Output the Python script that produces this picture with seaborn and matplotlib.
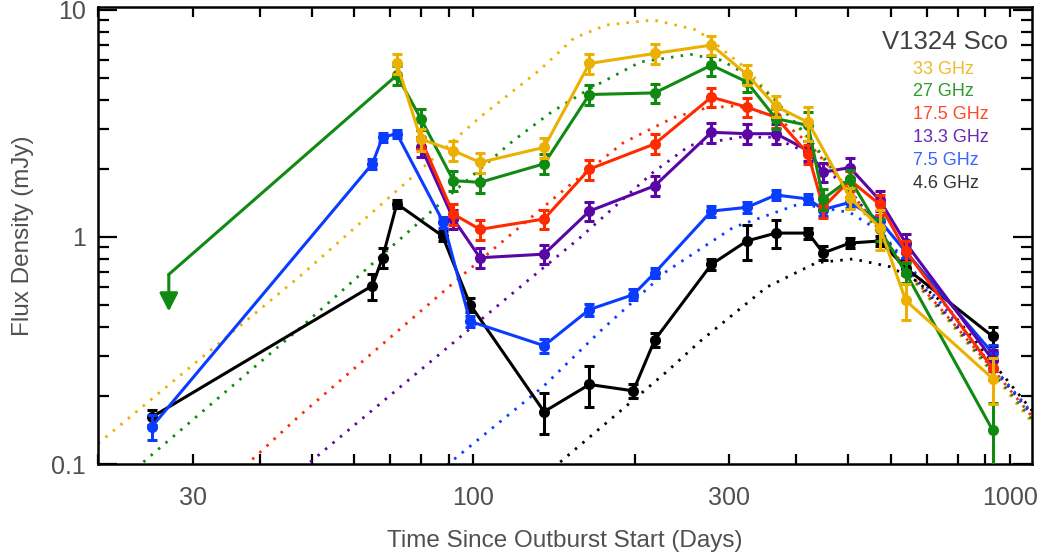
import matplotlib
matplotlib.use("Agg")
import matplotlib.pyplot as plt
import seaborn as sns
import pandas as pd

# ---------------- observed data (days, mJy, error) ----------------
t_33 = [72.1, 79.9, 91.9, 103, 135.6, 164.7, 218, 278, 323.6, 366.6, 421, 503.6, 572.6, 640, 929]
s_33 = [5.81, 2.70, 2.40, 2.13, 2.48, 5.81, 6.43, 7.00, 5.20, 3.76, 3.20, 1.49, 1.10, 0.525, 0.238]
e_33 = [0.60, 0.30, 0.25, 0.22, 0.26, 0.60, 0.65, 0.70, 0.52, 0.40, 0.55, 0.16, 0.22, 0.095, 0.055]

t_27 = [72.1, 79.9, 91.9, 103, 135.6, 164.7, 218, 278, 323.6, 366.6, 421, 449, 503.6, 572.6, 640, 929]
s_27 = [5.16, 3.32, 1.77, 1.74, 2.10, 4.24, 4.31, 5.71, 4.82, 3.32, 3.10, 1.47, 1.80, 1.08, 0.695, 0.141]
e_27 = [0.50, 0.35, 0.18, 0.18, 0.21, 0.42, 0.43, 0.57, 0.48, 0.33, 0.45, 0.15, 0.18, 0.12, 0.07, 0.045]
t_27_limit = 27.1
s_27_limit = 0.684
s_27_arrow = 0.47

t_175 = [79.9, 91.9, 103, 135.6, 164.7, 218, 278, 323.6, 366.6, 421, 449, 503.6, 572.6, 640, 929]
s_175 = [2.70, 1.26, 1.08, 1.20, 1.99, 2.57, 4.13, 3.73, 3.37, 2.32, 1.35, 1.78, 1.39, 0.867, 0.264]
e_175 = [0.27, 0.13, 0.11, 0.12, 0.20, 0.26, 0.41, 0.37, 0.34, 0.23, 0.14, 0.18, 0.14, 0.09, 0.03]

t_133 = [79.9, 91.9, 103, 135.6, 164.7, 218, 278, 323.6, 366.6, 421, 449, 503.6, 572.6, 640, 929]
s_133 = [2.50, 1.20, 0.81, 0.84, 1.30, 1.68, 2.89, 2.85, 2.85, 2.40, 1.93, 2.02, 1.45, 0.94, 0.288]
e_133 = [0.25, 0.12, 0.08, 0.08, 0.13, 0.17, 0.29, 0.29, 0.29, 0.24, 0.19, 0.20, 0.15, 0.09, 0.03]

t_75 = [25.2, 64.9, 67.8, 72.1, 88.0, 98.7, 135.6, 164.7, 198.8, 218, 278, 323.6, 366.6, 421, 449, 503.6, 572.6, 640, 929]
s_75 = [0.146, 2.10, 2.75, 2.85, 1.16, 0.425, 0.332, 0.479, 0.557, 0.695, 1.30, 1.35, 1.53, 1.47, 1.32, 1.42, 1.18, 0.86, 0.308]
e_75 = [0.018, 0.10, 0.12, 0.12, 0.06, 0.025, 0.025, 0.03, 0.03, 0.035, 0.07, 0.07, 0.08, 0.08, 0.08, 0.08, 0.07, 0.05, 0.025]

t_46 = [25.2, 64.9, 67.8, 72.1, 87.7, 98.7, 135.6, 164.7, 198.8, 218, 278, 323.6, 366.6, 421, 449, 503.6, 572.6, 640, 929]
s_46 = [0.161, 0.61, 0.81, 1.40, 1.01, 0.504, 0.170, 0.224, 0.210, 0.352, 0.757, 0.96, 1.04, 1.04, 0.85, 0.94, 0.96, 0.73, 0.365]
e_46 = [0.012, 0.08, 0.08, 0.06, 0.05, 0.035, 0.035, 0.045, 0.015, 0.025, 0.04, 0.17, 0.15, 0.06, 0.06, 0.05, 0.05, 0.05, 0.035]

# ---------------- model curves (dotted) ----------------
mt_33 = [20, 48, 103, 133, 154, 177, 217, 261, 280, 323, 366, 421, 504, 573, 640, 760, 929, 1100]
ms_33 = [0.123, 0.684, 3.37, 5.43, 7.5, 8.58, 9.03, 8.16, 7.24, 5.5, 4.0, 2.7, 1.55, 1.02, 0.70, 0.44, 0.25, 0.152]
mt_27 = [24.3, 47.6, 89.3, 118.9, 140, 165, 205, 254, 290, 323, 366, 421, 504, 573, 640, 760, 929, 1100]
ms_27 = [0.102, 0.397, 1.49, 2.66, 3.55, 4.5, 5.9, 6.37, 6.0, 5.2, 4.0, 2.75, 1.58, 1.04, 0.71, 0.45, 0.255, 0.157]
mt_175 = [37.6, 47.6, 95.9, 149.4, 190.5, 236, 272, 310, 366, 421, 504, 573, 640, 760, 929, 1100]
ms_175 = [0.098, 0.164, 0.684, 1.65, 2.6, 3.35, 3.7, 3.78, 3.4, 2.6, 1.6, 1.06, 0.72, 0.455, 0.262, 0.162]
mt_133 = [49.7, 126, 158, 216.7, 253.6, 314, 362, 418, 504, 573, 640, 760, 929, 1100]
ms_133 = [0.102, 0.638, 0.99, 1.93, 2.53, 2.75, 2.75, 2.36, 1.6, 1.08, 0.74, 0.46, 0.266, 0.165]
mt_75 = [89.3, 135.3, 172.4, 229.5, 305, 406, 504, 573, 640, 760, 929, 1100]
ms_75 = [0.0987, 0.22, 0.384, 0.707, 1.10, 1.40, 1.28, 1.06, 0.78, 0.48, 0.27, 0.168]
mt_46 = [145.3, 229.5, 264.8, 352, 436, 511, 597, 670, 760, 929, 1100]
ms_46 = [0.102, 0.255, 0.347, 0.60, 0.77, 0.80, 0.74, 0.64, 0.50, 0.28, 0.172]

labels = ["33 GHz", "27 GHz", "17.5 GHz", "13.3 GHz", "7.5 GHz", "4.6 GHz"]
colors = ["#EBB000", "#108A10", "#FF2A00", "#5A06A6", "#0A3CFF", "#000000"]
text_colors = ["#EDBB2E", "#2E9A2E", "#FF4A2A", "#6A2AB0", "#3A64FF", "#333333"]
x_ticks = [30, 100, 300, 1000]
x_ticklabels = ["30", "100", "300", "1000"]
y_ticks = [0.1, 1, 10]
y_ticklabels = ["0.1", "1", "10"]

obs = [(t_33, s_33, e_33), (t_27, s_27, e_27), (t_175, s_175, e_175),
       (t_133, s_133, e_133), (t_75, s_75, e_75), (t_46, s_46, e_46)]
mods = [(mt_33, ms_33), (mt_27, ms_27), (mt_175, ms_175),
        (mt_133, ms_133), (mt_75, ms_75), (mt_46, ms_46)]

sns.set_style("white")
plt.rcParams["font.family"] = ["Liberation Sans", "DejaVu Sans"]

fig = plt.figure(figsize=(10.44, 5.55), dpi=100)
ax = fig.add_axes([98 / 1044, 1 - 464 / 555, (1032 - 98) / 1044, (464 - 7) / 555])
ax.set_xscale("log")
ax.set_yscale("log")

# model curves
for (mt, ms), c in zip(mods, colors):
    df = pd.DataFrame({"t": mt, "s": ms})
    sns.lineplot(data=df, x="t", y="s", ax=ax, color=c, linewidth=2.0,
                 estimator=None, sort=False, zorder=1)
    ax.lines[-1].set_linestyle((0, (0.9, 2.6)))
    ax.lines[-1].set_dash_capstyle("butt")

# green upper limit segment
df_lim = pd.DataFrame({"t": [t_27_limit, t_27[0]], "s": [s_27_limit, s_27[0]]})
sns.lineplot(data=df_lim, x="t", y="s", ax=ax, color=colors[1], linewidth=2.2,
             estimator=None, sort=False, zorder=3)
ax.annotate("", xy=(t_27_limit, s_27_arrow), xytext=(t_27_limit, s_27_limit),
            arrowprops=dict(arrowstyle="-|>,head_length=0.55,head_width=0.28",
                            color=colors[1], lw=2.2, mutation_scale=20,
                            shrinkA=0, shrinkB=0), zorder=3)

# observed series (draw black first, orange last)
order = [5, 4, 3, 2, 1, 0]
for i in order:
    t, s, e = obs[i]
    c = colors[i]
    z = 3 + (5 - i) * 0.1
    df = pd.DataFrame({"t": t, "s": s})
    sns.lineplot(data=df, x="t", y="s", ax=ax, color=c, linewidth=2.2,
                 marker="o", markersize=8, markeredgewidth=0,
                 estimator=None, sort=False, zorder=z)
    ax.errorbar(t, s, yerr=e, fmt="none", ecolor=c, elinewidth=2.2,
                capsize=3.8, capthick=2.2, zorder=z)

ax.set_xlim(20, 1100)
ax.set_ylim(0.1, 10.3)

ax.set_xticks(x_ticks)
ax.set_xticklabels(x_ticklabels)
ax.set_yticks(y_ticks)
ax.set_yticklabels(y_ticklabels)
ax.xaxis.set_minor_locator(matplotlib.ticker.LogLocator(base=10, subs=range(2, 10), numticks=20))
ax.yaxis.set_minor_locator(matplotlib.ticker.LogLocator(base=10, subs=range(2, 10), numticks=20))
ax.xaxis.set_minor_formatter(matplotlib.ticker.NullFormatter())
ax.yaxis.set_minor_formatter(matplotlib.ticker.NullFormatter())

tick_col = "#505050"
ax.tick_params(axis="x", which="both", direction="in", top=True, bottom=True,
               length=7.5, width=1.6, color="black", labelsize=18,
               labelcolor=tick_col, pad=16)
ax.tick_params(axis="y", which="major", direction="in", left=True, right=True,
               length=14, width=1.6, color="black", labelsize=18,
               labelcolor=tick_col, pad=9)
ax.tick_params(axis="y", which="minor", direction="in", left=True, right=True,
               length=8, width=1.6, color="black")

for sp in ax.spines.values():
    sp.set_color("black")
    sp.set_linewidth(1.8)

ax.set_xlabel("Time Since Outburst Start (Days)", fontsize=17.5, color=tick_col, labelpad=14)
ax.set_ylabel("Flux Density (mJy)", fontsize=17.5, color=tick_col, labelpad=12)

# title and colored legend text
fig.text(1008 / 1044, 1 - 42 / 555, "V1324 Sco", fontsize=18.5, color="#404040",
         ha="right", va="center")
y0 = 69
for k, (lab, tc) in enumerate(zip(labels, text_colors)):
    fig.text(913 / 1044, 1 - (y0 + 22.8 * k) / 555, lab, fontsize=13, color=tc,
             ha="left", va="center")

fig.savefig("out.png", dpi=100)
